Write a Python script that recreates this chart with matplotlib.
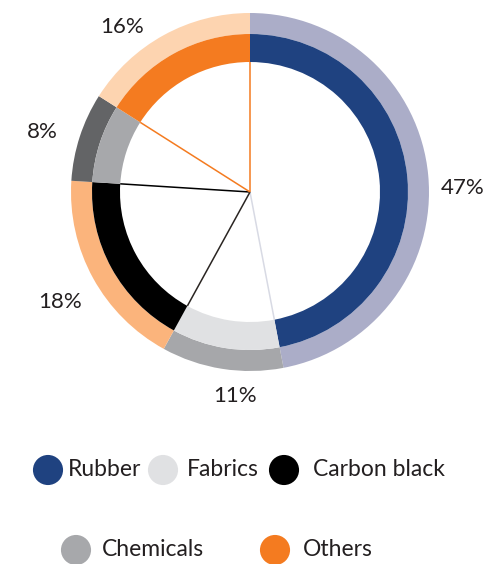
import matplotlib.pyplot as plt
import numpy as np

# data
categories = ["Rubber", "Fabrics", "Carbon black", "Chemicals", "Others"]
shares = [47, 11, 18, 8, 16]
inner_colors = ["#1f4280", "#e0e1e3", "#000000", "#a7a8ab", "#f47b20"]
outer_colors = ["#abadc8", "#a6a7aa", "#fbb47c", "#636466", "#fdd4b0"]
edge_line_colors = ["#f47b20", "#d8dae4", "#2a2522", "#000000", "#f47b20"]

plt.rcParams['font.family'] = ['Lato', 'DejaVu Sans']
txt_color = "#231f20"

fig = plt.figure(figsize=(4.87, 5.64), dpi=100)
ax = fig.add_axes([0, 0, 1, 1])

cx, cy = 250, 372
r_out, r_mid, r_in = 179, 158, 130

ax.pie(shares, colors=outer_colors, radius=r_out, center=(cx, cy),
       startangle=90, counterclock=False,
       wedgeprops=dict(width=r_out - r_mid, linewidth=0), frame=True)
ax.pie(shares, colors=inner_colors, radius=r_mid, center=(cx, cy),
       startangle=90, counterclock=False,
       wedgeprops=dict(width=r_mid - r_in, linewidth=0), frame=True)
ax.set_xlim(0, 487)
ax.set_ylim(0, 564)
ax.set_aspect('equal')
ax.axis('off')

# spokes from centre to the inner edge at each boundary
fracs = np.array(shares) / sum(shares)
starts = 90 - 360 * np.concatenate([[0], np.cumsum(fracs)[:-1]])
for ang, col in zip(starts, edge_line_colors):
    a = np.deg2rad(ang)
    ax.plot([cx, cx + r_in * np.cos(a)], [cy, cy + r_in * np.sin(a)],
            color=col, lw=1.1, solid_capstyle='butt')

# percentage labels (nudged around the mid angle like the original)
mids = starts - 180 * fracs
label_r = [213, 205, 219, 216, 209]
label_shift = [-4.3, 4.8, 1.3, 1.8, 9]
for s, m, r, d in zip(shares, mids, label_r, label_shift):
    a = np.deg2rad(m + d)
    ax.text(cx + r * np.cos(a), cy + r * np.sin(a), f"{s}%",
            ha='center', va='center', fontsize=16, color=txt_color)

# legend
leg_pos = [(48, 94), (163, 94), (284, 94), (76, 14), (275, 14)]
leg_gap = [20, 24, 29, 26, 28]
for (lx, ly), g, name, col in zip(leg_pos, leg_gap, categories, inner_colors):
    ax.scatter([lx], [ly], s=470, color=col, edgecolors='none')
    ax.text(lx + g, ly, name, ha='left', va='center',
            fontsize=16.5, color=txt_color)

fig.savefig("out.png", dpi=100)
